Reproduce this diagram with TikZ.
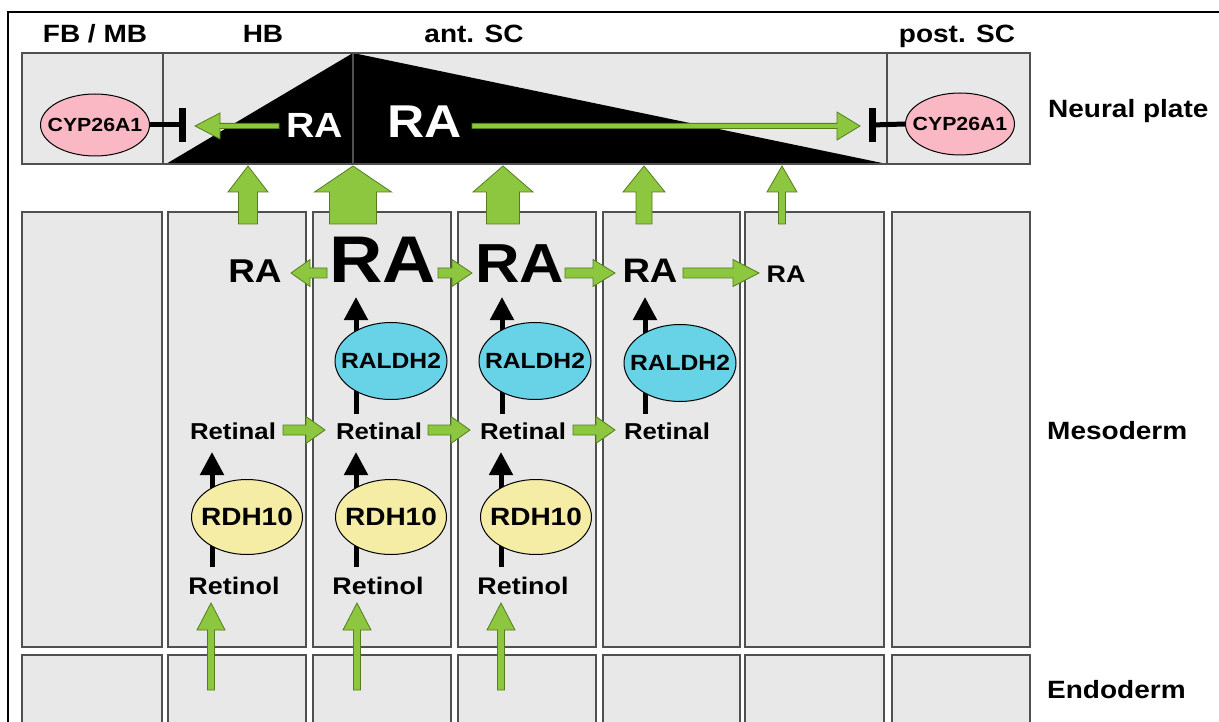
\documentclass[tikz,border=0pt]{standalone}
\usepackage{fontspec}
\setmainfont{Liberation Sans}[FakeStretch=1.12]
\usetikzlibrary{calc,shapes.geometric,arrows.meta}
\definecolor{cellgray}{RGB}{232,232,232}
\definecolor{cellline}{RGB}{80,80,80}
\definecolor{gfillc}{RGB}{141,198,63}
\definecolor{glinec}{RGB}{85,125,30}
\definecolor{pinkc}{RGB}{249,184,196}
\definecolor{cyanc}{RGB}{104,210,230}
\definecolor{yellc}{RGB}{245,236,165}
\newcommand\fsz[1]{\fontsize{#1}{#1}\selectfont}
% block arrow from #1 to #2: half shaft #3, half head #4, head length #5
\newcommand\blockarr[5]{%
  \coordinate (bacC) at ($(#2)!#5!(#1)$);
  \path[gblk] ($(#1)!#3!90:(#2)$) -- ($(bacC)!#3!-90:(#1)$) -- ($(bacC)!#4!-90:(#1)$)
    -- (#2) -- ($(bacC)!#4!90:(#1)$) -- ($(bacC)!#3!90:(#1)$) -- ($(#1)!#3!-90:(#2)$) -- cycle;}
\begin{document}
\begin{tikzpicture}[x=1pt,y=-1pt,
  cell/.style={draw=cellline,fill=cellgray,line width=1.4pt},
  lbl/.style={font=\bfseries\fsz{25},inner sep=0pt,anchor=base},
  side/.style={font=\bfseries\fsz{25},inner sep=0pt,anchor=base west},
  enz/.style={ellipse,draw=black,line width=1pt,inner sep=0pt},
  cyp/.style={enz,fill=pinkc,minimum width=109pt,minimum height=62pt,
    label={[font=\bfseries\fsz{19},inner sep=0pt]center:#1}},
  raldh/.style={enz,fill=cyanc,minimum width=112pt,minimum height=77pt,
    label={[font=\bfseries\fsz{22},inner sep=0pt]center:#1}},
  rdh/.style={enz,fill=yellc,minimum width=111pt,minimum height=75pt,
    label={[font=\bfseries\fsz{25},inner sep=0pt]center:#1}},
  met/.style={font=\bfseries\fsz{23},inner sep=0pt,anchor=base},
  wra/.style={text=white,inner sep=0pt,anchor=base},
  bra/.style={inner sep=0pt,anchor=base},
  blk/.style={draw=black,line width=5pt,-{Triangle[length=23pt,width=23pt]}},
  inh/.style={draw=black,line width=5pt},
  tbar/.style={draw=black,line width=7pt},
  gblk/.style={fill=gfillc,draw=glinec,line width=0.8pt}]
\clip (0,0) rectangle (1219,722);
\fill[white] (0,0) rectangle (1219,722);
% outer frame
\draw[line width=2pt] (1225,12) -- (8,12) -- (8,730);
% column labels
\node[lbl] (lfb) at (95,43) {FB / MB};
\node[lbl] (lhb) at (263,43) {HB};
\node[lbl] (lant) at (474,43) {ant. SC};
\node[lbl] (lpost) at (957,43) {post. SC};
% side labels
\node[side] (lnp) at (1048,118) {Neural plate};
\node[side] (lmes) at (1047,439) {Mesoderm};
\node[side] (lend) at (1047,698) {Endoderm};
% neural plate
\fill[cellgray] (22,53) rectangle (1030,164);
\fill[black] (166,164) -- (353,53) -- (887,164) -- cycle;
\draw[cellline,line width=1.4pt] (22,53) rectangle (1030,164);
\draw[cellline,line width=1.4pt] (163,53) -- (163,164) (353,53) -- (353,164) (887,53) -- (887,164);
\node[cyp=CYP26A1] (cypL) at (95,125) {};
\node[cyp=CYP26A1] (cypR) at (960,124) {};
\coordinate (tL) at (182,125);
\coordinate (tR) at (872,125);
\draw[inh] (cypL.east) -- (tL);
\draw[inh] (cypR.west) -- (tR);
\draw[tbar] (182,108) -- (182,142);
\draw[tbar] (872,108) -- (872,142);
\node[wra,font=\bfseries\fsz{35}] (raS) at (315,138) {RA};
\node[wra,font=\bfseries\fsz{46}] (raB) at (425,138) {RA};
\coordinate (nlS) at (279,126); \coordinate (nlT) at (195,126);
\coordinate (nrS) at (472,126); \coordinate (nrT) at (860,126);
\blockarr{nlS}{nlT}{2.6pt}{13pt}{25pt}
\blockarr{nrS}{nrT}{2.6pt}{14pt}{23pt}
% mesoderm and endoderm cells
\foreach \a/\b in {22/162,168/306,313/451,458/596,603/740,745/884,892/1030}{
  \path[cell] (\a,212) rectangle (\b,647);
  \path[cell] (\a,655) rectangle (\b,740);
}
% arrows mesoderm -> neural plate
\coordinate (v2s) at (248,224); \coordinate (v2t) at (248,166);
\coordinate (v3s) at (353,224); \coordinate (v3t) at (353,166);
\coordinate (v4s) at (503,224); \coordinate (v4t) at (503,166);
\coordinate (v5s) at (644,224); \coordinate (v5t) at (644,166);
\coordinate (v6s) at (782,224); \coordinate (v6t) at (782,166);
\blockarr{v2s}{v2t}{9.5pt}{20pt}{26pt}
\blockarr{v3s}{v3t}{23.5pt}{38.5pt}{26pt}
\blockarr{v4s}{v4t}{16.5pt}{30pt}{26pt}
\blockarr{v5s}{v5t}{8pt}{21pt}{26pt}
\blockarr{v6s}{v6t}{3.5pt}{15pt}{26pt}
% RA row
\node[bra,font=\bfseries\fsz{33}] (ra2) at (255,283) {RA};
\node[bra,font=\bfseries\fsz{66}] (ra3) at (383,283) {RA};
\node[bra,font=\bfseries\fsz{55}] (ra4) at (520,283) {RA};
\node[bra,font=\bfseries\fsz{34}] (ra5) at (650,283) {RA};
\node[bra,font=\bfseries\fsz{24}] (ra6) at (786,283) {RA};
\coordinate (h32s) at (327,273); \coordinate (h32t) at (291,273);
\coordinate (h34s) at (438,273); \coordinate (h34t) at (472,273);
\coordinate (h45s) at (565,273); \coordinate (h45t) at (615,273);
\coordinate (h56s) at (683,273); \coordinate (h56t) at (759,273);
\blockarr{h32s}{h32t}{5pt}{13.5pt}{19pt}
\blockarr{h34s}{h34t}{5pt}{13.5pt}{20pt}
\blockarr{h45s}{h45t}{5pt}{13.5pt}{22pt}
\blockarr{h56s}{h56t}{5pt}{13.5pt}{26pt}
% Retinal row
\node[met] (rl2) at (233,439) {Retinal};
\node[met] (rl3) at (379,439) {Retinal};
\node[met] (rl4) at (523,439) {Retinal};
\node[met] (rl5) at (667,439) {Retinal};
% Retinal -> RA via RALDH2
\coordinate (b3s) at (356,414); \coordinate (b3t) at (356,297);
\coordinate (b4s) at (502,414); \coordinate (b4t) at (502,297);
\coordinate (b5s) at (645,414); \coordinate (b5t) at (645,297);
\draw[blk] (b3s) -- (b3t);
\draw[blk] (b4s) -- (b4t);
\draw[blk] (b5s) -- (b5t);
\node[raldh=RALDH2] (ral3) at (391,361) {};
\node[raldh=RALDH2] (ral4) at (535,361) {};
\node[raldh=RALDH2] (ral5) at (680,363) {};
\coordinate (g23s) at (283,430); \coordinate (g23t) at (325,430);
\coordinate (g34s) at (428,430); \coordinate (g34t) at (470,430);
\coordinate (g45s) at (573,430); \coordinate (g45t) at (615,430);
\blockarr{g23s}{g23t}{5pt}{13.5pt}{19pt}
\blockarr{g34s}{g34t}{5pt}{13.5pt}{19pt}
\blockarr{g45s}{g45t}{5pt}{13.5pt}{19pt}
% Retinol -> Retinal via RDH10
\node[met,font=\bfseries\fsz{24}] (ro2) at (234,594) {Retinol};
\node[met,font=\bfseries\fsz{24}] (ro3) at (378,594) {Retinol};
\node[met,font=\bfseries\fsz{24}] (ro4) at (523,594) {Retinol};
\coordinate (k2s) at (212,567); \coordinate (k2t) at (212,452);
\coordinate (k3s) at (356,567); \coordinate (k3t) at (356,452);
\coordinate (k4s) at (501,567); \coordinate (k4t) at (501,452);
\draw[blk] (k2s) -- (k2t);
\draw[blk] (k3s) -- (k3t);
\draw[blk] (k4s) -- (k4t);
\node[rdh=RDH10] (rd2) at (247,517) {};
\node[rdh=RDH10] (rd3) at (391,517) {};
\node[rdh=RDH10] (rd4) at (536,517) {};
% endoderm -> Retinol
\coordinate (e2s) at (211,690); \coordinate (e2t) at (211,603);
\coordinate (e3s) at (357,690); \coordinate (e3t) at (357,603);
\coordinate (e4s) at (501,690); \coordinate (e4t) at (501,603);
\blockarr{e2s}{e2t}{3.5pt}{14pt}{27pt}
\blockarr{e3s}{e3t}{3.5pt}{14pt}{27pt}
\blockarr{e4s}{e4t}{3.5pt}{14pt}{27pt}
\end{tikzpicture}
\end{document}
